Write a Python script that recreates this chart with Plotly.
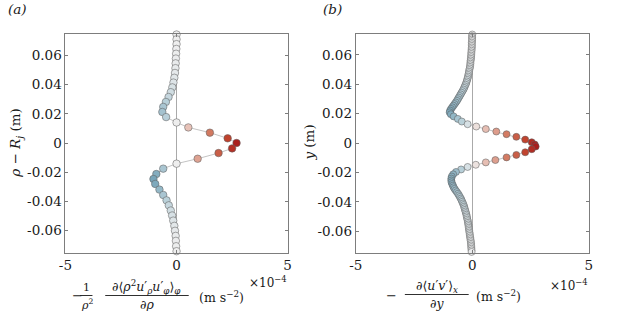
import plotly.graph_objects as go

W, H = 623, 311

# ---------------- data (x in units of 1e-4 m s^-2, y in m) ----------------
a_y = [0.0745, 0.0712, 0.0679, 0.0646, 0.0613, 0.0580, 0.0547, 0.0514, 0.0481, 0.0448,
       0.0415, 0.0382, 0.0349, 0.0316, 0.0282, 0.0248, 0.0213, 0.0178, 0.0141, 0.0107,
       0.0071, 0.0032, 0.0000, -0.0037, -0.0069, -0.0108, -0.0142, -0.0176, -0.0213, -0.0247,
       -0.0281, -0.0320, -0.0357, -0.0394, -0.0428, -0.0464, -0.0498, -0.0533, -0.0569, -0.0603,
       -0.0638, -0.0672, -0.0709, -0.0743]
a_x = [0.00, 0.00, 0.00, -0.01, -0.02, -0.03, -0.04, -0.05, -0.07, -0.10,
       -0.14, -0.19, -0.26, -0.36, -0.48, -0.60, -0.64, -0.47, 0.00, 0.53,
       1.50, 2.30, 2.70, 2.50, 1.89, 0.95, 0.00, -0.60, -0.91, -1.04,
       -0.96, -0.77, -0.60, -0.45, -0.35, -0.26, -0.20, -0.15, -0.10, -0.07,
       -0.04, -0.03, -0.02, 0.00]

b_y = [0.0749, 0.0738, 0.0727, 0.0716, 0.0705, 0.0694, 0.0683, 0.0672, 0.0661, 0.0650,
       0.0639, 0.0628, 0.0617, 0.0606, 0.0595, 0.0584, 0.0573, 0.0562, 0.0551, 0.0540,
       0.0529, 0.0518, 0.0507, 0.0496, 0.0485, 0.0474, 0.0463, 0.0452, 0.0441, 0.0430,
       0.0419, 0.0408, 0.0397, 0.0386, 0.0375, 0.0364, 0.0353, 0.0342, 0.0331, 0.0320,
       0.0309, 0.0298, 0.0287, 0.0276, 0.0265, 0.0254, 0.0243, 0.0232, 0.0221, 0.0209,
       0.0196, 0.0181, 0.0164, 0.0146, 0.0128, 0.0112, 0.0095, 0.0078, 0.0060, 0.0042,
       0.0023, 0.0005, -0.0010, -0.0024, -0.0042, -0.0063, -0.0081, -0.0098, -0.0116, -0.0132,
       -0.0148, -0.0163, -0.0180, -0.0197, -0.0213, -0.0228, -0.0242, -0.0255, -0.0267, -0.0279,
       -0.0290, -0.0301, -0.0312, -0.0323, -0.0334, -0.0345, -0.0356, -0.0367, -0.0378, -0.0389,
       -0.0400, -0.0411, -0.0422, -0.0433, -0.0444, -0.0455, -0.0466, -0.0477, -0.0488, -0.0499,
       -0.0510, -0.0521, -0.0532, -0.0543, -0.0554, -0.0565, -0.0576, -0.0587, -0.0598, -0.0609,
       -0.0620, -0.0631, -0.0642, -0.0653, -0.0664, -0.0675, -0.0686, -0.0697, -0.0708, -0.0719,
       -0.0730, -0.0741]
b_x = [0.00, 0.00, -0.01, -0.01, -0.01, -0.01, -0.02, -0.02, -0.02, -0.02,
       -0.03, -0.03, -0.04, -0.04, -0.05, -0.05, -0.06, -0.07, -0.08, -0.08,
       -0.09, -0.10, -0.11, -0.13, -0.14, -0.15, -0.17, -0.18, -0.20, -0.22,
       -0.24, -0.26, -0.29, -0.32, -0.35, -0.38, -0.42, -0.46, -0.50, -0.54,
       -0.58, -0.62, -0.66, -0.71, -0.76, -0.81, -0.86, -0.91, -0.95, -0.97,
       -0.92, -0.80, -0.62, -0.45, -0.20, 0.17, 0.58, 1.03, 1.47, 1.89,
       2.27, 2.55, 2.68, 2.72, 2.55, 2.27, 1.89, 1.47, 0.99, 0.58,
       0.15, -0.20, -0.48, -0.70, -0.82, -0.88, -0.90, -0.90, -0.89, -0.86,
       -0.83, -0.80, -0.76, -0.71, -0.66, -0.61, -0.57, -0.53, -0.49, -0.46,
       -0.43, -0.40, -0.37, -0.35, -0.33, -0.31, -0.29, -0.27, -0.25, -0.24,
       -0.22, -0.21, -0.19, -0.18, -0.17, -0.16, -0.15, -0.14, -0.13, -0.12,
       -0.11, -0.10, -0.09, -0.08, -0.07, -0.06, -0.05, -0.05, -0.04, -0.04,
       -0.03, -0.03]

y_tickvals = [-0.06, -0.04, -0.02, 0, 0.02, 0.04, 0.06]
y_ticktext = ["-0.06", "-0.04", "-0.02", "0", "0.02", "0.04", "0.06"]
x_tickvals = [-5, 0, 5]
x_ticktext = ["-5", "0", "5"]

# ---------------- style ----------------
FONT = "DejaVu Serif"
TXT = "rgb(25,25,25)"
C_MIN, C_MAX = -2.8, 2.8
cscale = [
    [0.00, "rgb(45,95,125)"],
    [0.32, "rgb(120,165,185)"],
    [0.41, "rgb(180,205,215)"],
    [0.50, "rgb(238,238,238)"],
    [0.59, "rgb(232,196,186)"],
    [0.77, "rgb(210,120,95)"],
    [0.91, "rgb(192,66,45)"],
    [1.00, "rgb(165,22,25)"],
]


def px(x):
    return x / W


def py(y):
    return 1 - y / H


fig = go.Figure()

for xs, ys, xa, ya, ms in [(a_x, a_y, "x", "y", 7.5), (b_x, b_y, "x2", "y2", 7)]:
    fig.add_trace(go.Scatter(
        x=xs, y=ys, xaxis=xa, yaxis=ya, mode="lines+markers",
        line=dict(color="rgb(180,180,180)", width=0.8),
        marker=dict(size=ms, color=xs, colorscale=cscale, cmin=C_MIN, cmax=C_MAX,
                    line=dict(color="rgb(95,95,95)", width=0.55)),
        cliponaxis=False, showlegend=False, hoverinfo="skip"))

ax_common = dict(showline=True, mirror="ticks", linecolor="rgb(125,125,125)", linewidth=1,
                 ticks="inside", ticklen=3, tickcolor="rgb(125,125,125)", showgrid=False,
                 tickfont=dict(family=FONT, size=13.5, color=TXT))

ydom = [py(252.5), py(33.5)]
fig.update_layout(
    width=W, height=H, margin=dict(l=0, r=0, t=0, b=0),
    paper_bgcolor="white", plot_bgcolor="white",
    font=dict(family=FONT),
    xaxis=dict(domain=[px(59.5), px(285.7)], range=[-5, 5], tickvals=x_tickvals, ticktext=x_ticktext,
               zeroline=True, zerolinecolor="rgb(170,170,170)", zerolinewidth=1, anchor="y", **ax_common),
    yaxis=dict(domain=ydom, range=[-0.0752, 0.0752], tickvals=y_tickvals, ticktext=y_ticktext,
               zeroline=False, anchor="x", **ax_common),
    xaxis2=dict(domain=[px(355), px(592.3)], range=[-5, 5], tickvals=x_tickvals, ticktext=x_ticktext,
                zeroline=True, zerolinecolor="rgb(170,170,170)", zerolinewidth=1, anchor="y2", **ax_common),
    yaxis2=dict(domain=ydom, range=[-0.0745, 0.0745], tickvals=y_tickvals, ticktext=y_ticktext,
                zeroline=False, anchor="x2", **ax_common),
)

annots = []
shapes = []


def txt(x, y, s, size=15, angle=0, xanchor="center"):
    annots.append(dict(x=px(x), y=py(y), xref="paper", yref="paper", text=s, showarrow=False,
                       xanchor=xanchor, yanchor="middle", textangle=angle,
                       font=dict(family=FONT, size=size, color=TXT)))


def bar(x0, x1, y):
    shapes.append(dict(type="line", xref="paper", yref="paper", x0=px(x0), x1=px(x1), y0=py(y), y1=py(y),
                       line=dict(color=TXT, width=0.9)))


# panel labels
txt(11, 9, "<i>(a)</i>", 13.5)
txt(331, 9, "<i>(b)</i>", 13.5)

# y-axis titles
txt(9, 143, "<i>ρ</i> − <i>R<sub>j</sub></i> (m)", 13.5, angle=-90)
txt(307, 143, "<i>y</i> (m)", 13.5, angle=-90)

# left x label
txt(71.5, 295.5, "−", 13)
txt(80.5, 287, "1", 11)
bar(74.5, 87, 295.5)
txt(81, 304, "<i>ρ</i><sup>2</sup>", 11)
txt(142.5, 286.5, "∂⟨<i>ρ</i><sup>2</sup><i>u</i>′<sub><i>ρ</i></sub><i>u</i>′<sub><i>φ</i></sub>⟩<sub><i>φ</i></sub>", 12.5)
bar(100, 185, 295.5)
txt(142.5, 304, "∂<i>ρ</i>", 12.5)
txt(218.5, 296.5, "(m s<sup>−2</sup>)", 12.5)
txt(266, 282, "×10<sup>−4</sup>", 12)

# right x label
txt(391.5, 295.5, "−", 13)
txt(437.5, 286.5, "∂⟨<i>u</i>′<i>v</i>′⟩<sub><i>x</i></sub>", 12.5)
bar(405, 470, 294.5)
txt(437.5, 303, "∂<i>y</i>", 12.5)
txt(500.5, 295.5, "(m s<sup>−2</sup>)", 12.5)
txt(572.5, 285, "×10<sup>−4</sup>", 12)

fig.update_layout(annotations=annots, shapes=shapes)
fig.write_html("out.html", config={"displayModeBar": False},
               post_script="document.body.style.margin='0';document.body.style.overflow='hidden';")
